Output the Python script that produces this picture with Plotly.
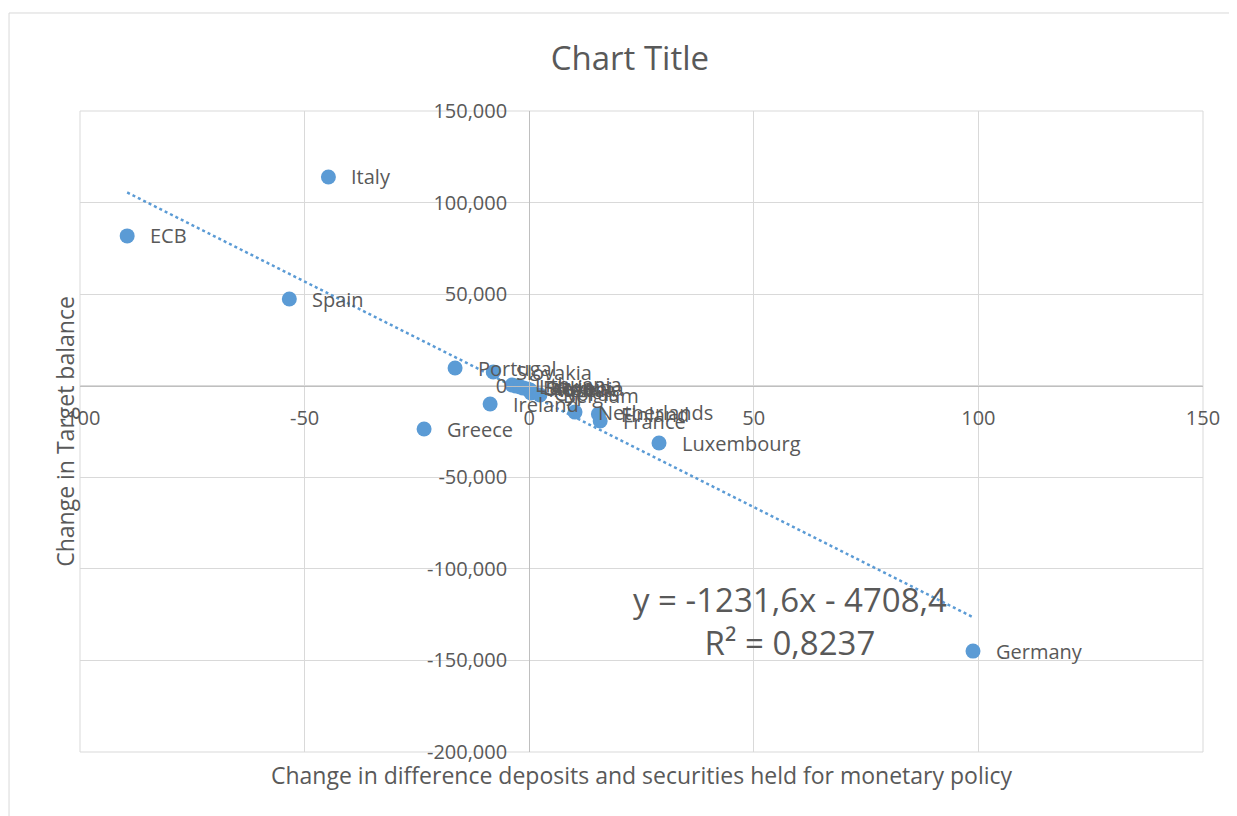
import plotly.graph_objects as go

# change in (deposits - monetary policy securities), change in TARGET balance
names = ["ECB", "Italy", "Spain", "Portugal", "Slovakia", "Lithuania", "Latvia",
         "Estonia", "Slovenia", "Austria", "Malta", "Cyprus", "Belgium", "Ireland",
         "Greece", "Netherlands", "Finland", "France", "Luxembourg", "Germany"]
dx = [-89.5, -44.7, -53.4, -16.5, -8.0, -3.8, -2.9,
      -2.0, -1.3, -0.4, 0.2, 0.4, 2.4, -8.7,
      -23.4, 10.2, 15.4, 15.8, 28.9, 98.8]
dy = [81800, 114000, 47350, 9670, 7480, 400, -200,
      -700, -1300, -1800, -2300, -4000, -5100, -10000,
      -23650, -14400, -15500, -19300, -31300, -144900]

# linear trendline as printed on the chart
slope, intercept = -1231.6, -4708.4
r2 = "0,8237"

xticks = [-100, -50, 0, 50, 100, 150]
xticktext = ["-100", "-50", "0", "50", "100", "150"]
yticks = [-200000, -150000, -100000, -50000, 0, 50000, 100000, 150000]
yticktext = ["-200,000", "-150,000", "-100,000", "-50,000", "0", "50,000", "100,000", "150,000"]

BLUE = "#5B9BD5"
GREY = "#595959"
FONT = "Open Sans"

fig = go.Figure()

fig.add_trace(go.Scatter(
    x=dx, y=dy, mode="markers",
    marker=dict(color=BLUE, size=15),
    hoverinfo="text", text=names, showlegend=False
))

xs = [min(dx), max(dx)]
fig.add_trace(go.Scatter(
    x=xs, y=[slope * v + intercept for v in xs], mode="lines",
    line=dict(color=BLUE, width=2.5, dash="dot"),
    hoverinfo="skip", showlegend=False
))

for n, a, b in zip(names, dx, dy):
    fig.add_annotation(x=a, y=b, text=n, showarrow=False, xanchor="left",
                       xshift=21, font=dict(size=20, color=GREY, family=FONT))

fig.add_annotation(x=0.632, y=0.204, xref="paper", yref="paper", showarrow=False,
                   xanchor="center", yanchor="middle",
                   text="y = -1231,6x - 4708,4<br>R² = " + r2, align="center",
                   font=dict(size=33, color=GREY, family=FONT))

# axis titles
fig.add_annotation(x=0.5, y=-0.036, xref="paper", yref="paper", showarrow=False,
                   yanchor="middle", text="Change in difference deposits and securities held for monetary policy",
                   font=dict(size=23, color=GREY, family=FONT))
fig.add_annotation(x=-0.03, y=0.5, xref="paper", yref="paper", showarrow=False,
                   textangle=-90, text="Change in Target balance",
                   font=dict(size=23, color=GREY, family=FONT))

# plot frame and outer chart border
fig.add_shape(type="rect", xref="paper", yref="paper", x0=0, x1=1, y0=0, y1=1,
              line=dict(color="#d9d9d9", width=1), layer="below")
fig.add_shape(type="rect", xref="paper", yref="paper", x0=-0.0632, x1=1.04,
              y0=-0.13, y1=1.1529, line=dict(color="#d9d9d9", width=1), layer="below")

fig.update_layout(
    width=1229, height=808,
    margin=dict(l=72, r=34, t=103, b=64),
    paper_bgcolor="white", plot_bgcolor="white",
    font=dict(family=FONT, color=GREY, size=20),
    title=dict(text="Chart Title", x=0.506, y=0.938, xref="container", yref="container",
               xanchor="center", yanchor="middle", font=dict(size=33, color=GREY, family=FONT)),
    xaxis=dict(range=[-100, 150], tickvals=xticks, ticktext=xticktext,
               showgrid=True, gridcolor="#d9d9d9", gridwidth=1, zeroline=False,
               showline=True, linecolor="#bfbfbf", linewidth=1,
               anchor="free", position=0.5714, ticks="", ticklabelstandoff=14,
               tickfont=dict(size=20, color=GREY)),
    yaxis=dict(range=[-200000, 150000], tickvals=yticks, ticktext=yticktext,
               showgrid=True, gridcolor="#d9d9d9", gridwidth=1, zeroline=False,
               showline=True, linecolor="#bfbfbf", linewidth=1,
               anchor="free", position=0.4, ticks="", ticklabelstandoff=18,
               tickfont=dict(size=20, color=GREY)),
)

fig.write_html("out.html")
